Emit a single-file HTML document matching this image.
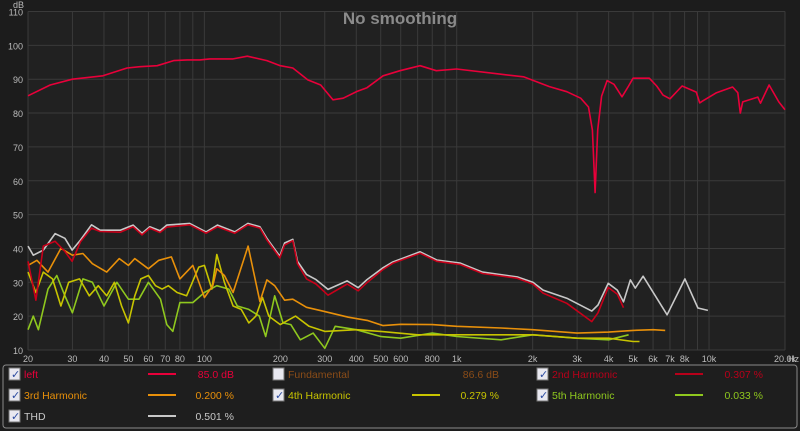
<!DOCTYPE html>
<html><head><meta charset="utf-8"><style>
body{margin:0;background:#1c1c1c;width:800px;height:431px;overflow:hidden;font-family:"Liberation Sans",sans-serif}
svg{position:absolute;left:0;top:0}
</style></head><body>
<svg id="c" width="800" height="431">
<rect x="0" y="0" width="800" height="431" fill="#1c1c1c"/>
<rect x="28" y="11" width="757" height="339" fill="#212121"/>
<g id="grid"></g><g id="ticks"></g><g id="series"></g>
<text x="400" y="24" text-anchor="middle" font-size="17" font-weight="bold" fill="#8a8a8a">No smoothing</text>
<text x="13" y="8" font-size="9" fill="#bbb">dB</text>
<text x="788" y="362" font-size="9" fill="#bbb">Hz</text>
<rect x="3" y="365" width="794" height="63" rx="3" fill="#1e1e1e" stroke="#8a8a8a"/>
<g id="legend" font-size="10.5"></g>
</svg>
<script>
const NS="http://www.w3.org/2000/svg";
const yTicks=[10,20,30,40,50,60,70,80,90,100,110];
const xGrid=[20,30,40,50,60,70,80,90,100,200,300,400,500,600,700,800,900,1000,2000,3000,4000,5000,6000,7000,8000,9000,10000,20000];
const xLabels=["20","30","40","50","60","70","80","100","200","300","400","500","600","800","1k","2k","3k","4k","5k","6k","7k","8k","10k","20.0k"];
const xLabelF=[20,30,40,50,60,70,80,100,200,300,400,500,600,800,1000,2000,3000,4000,5000,6000,7000,8000,10000,20000];

const leftF=[20,24.5,30,39.6,49.4,55.6,65,75.6,85.5,96,105,130,148,177,200,224,257,289,323,355,403,441,511,596,716,830,1000,1480,1840,2330,2730,3100,3330,3450,3535,3620,3750,3945,4200,4520,4800,5000,5800,6200,6570,7000,7820,8900,9180,9400,10700,12400,13000,13300,13600,15600,16000,17300,18900,20000];
const leftV=[85.1,88.3,90,91,93.3,93.7,94,95.5,95.7,95.7,96,96,96.8,95.5,94,93.3,89.8,88.3,83.9,84.4,86.4,87.5,91,92.5,94,92.5,93,91.5,90.7,87.8,86.3,84.4,81.8,75,56.5,75,85,89.6,88.5,84.8,88,90.3,90.3,88,85.3,84.2,88,86.2,83,83.5,86,87.7,86,80,83.3,84.7,82.9,88.3,83.3,81];

const thdF=[20,21,23,25.6,28,29.9,32.3,35.7,38.6,46.4,52.2,56.6,60.8,66.7,71,87.5,101.6,112.7,132,148.8,166,177,199,208,224,234,254,277,309,368,407,441,511,558,716,833,1030,1265,1736,2005,2200,2730,3430,3630,3985,4330,4580,4880,5100,5480,6820,8020,9030,9900];
const thdV=[40.7,38,39.5,44.4,43,39.5,42.5,47,45.4,45.4,46.9,44.5,46.4,45.2,46.9,47.4,44.9,46.9,44.9,47.4,46.4,43,37.7,41.6,42.7,36.2,32.3,30.8,27.9,30.4,28.4,30.8,34.3,36,39,36.6,35.7,33,31.6,30,27.7,25.3,21.5,23.3,29.7,27.7,24.2,30.7,28.3,31.8,20.4,31,22.4,21.7];

const h2F=[20,21.5,23,25.6,28,29.9,32.3,35.7,38.6,46.4,52.2,56.6,60.8,66.7,71,87.5,101.6,112.7,132,148.8,166,177,199,208,224,234,254,277,309,368,407,441,511,558,716,833,1030,1265,1736,2005,2200,2730,3430,3630,3985,4330,4580];
const h2V=[36.2,24.7,40.7,42.1,39.1,36.2,42,46,45,44.8,46.4,44,46,44.7,46.3,47,44.5,46.4,44.5,47,46,42.5,37.2,41,42.3,35.5,31,29.5,26.2,29.5,27.5,29.9,33.8,35.6,38.6,36.2,35.3,32.6,31.2,29.5,26.8,23.8,18.4,21,28.5,26.5,22.5];

const h3F=[20,21.7,24,27,30,33,36,41,46,50,53,60,66,74,80,90,100,108,112,120,130,149,166,177,190,208,224,254,290,372,445,511,600,800,1000,1500,2000,3000,4000,5000,6000,6700];
const h3V=[35,36.5,33,40,38,38.5,35.5,33,37,35,37,34,36.5,37.5,31,35,25.5,29,34,32,27,40.7,24.3,30.7,29,24.7,25,22.6,21.6,19.7,18.7,17.2,17.6,17.5,17,16.5,16,15,15.3,15.8,16,15.8];

const h4F=[20,21.5,23,25,27,29,32,35,38,41,44,47,50,53,56,60,64,68,72,78,85,95,100,107,112,120,130,140,150,160,170,180,200,230,260,300,400,500,700,1000,2000,3000,4000,5000,5300];
const h4V=[33,27,33,31,23,30,31,26,29,26,30,23,18,26,31,32,29,28,29,27,26,34.5,35,28,38.2,30,23,22,18,20,25.5,20,17.5,20,17,15.5,16,15.5,14.5,14.5,14.5,13.5,13.5,12.5,12.5];

const h5F=[20,21,22,24,26,28,30,33,36,40,45,50,55,60,67,71,75,80,90,100,112,125,135,150,165,175,190,205,220,240,270,300,330,400,500,600,800,1000,1500,2000,3000,4000,4800];
const h5V=[16,20,16,28,32,26,21,31,30,23,30,25,25,30,25,17.5,15.5,24,24,27,29,28,23,22,20,14,26,18,17.5,13,15,10.5,17,16,14,13.5,15,14,13,14.5,13.5,13,14.5];

const X0=28,X1=785,YT=11.5,YB=350;
function xs(f){return X0+(X1-X0)*Math.log10(f/20)/3;}
function ys(d){return YB-(YB-YT)*(d-10)/100;}
const grid=document.getElementById('grid'),ticks=document.getElementById('ticks'),ser=document.getElementById('series');
function mk(tag,attrs,parent){const e=document.createElementNS(NS,tag);for(const k in attrs)e.setAttribute(k,attrs[k]);parent.appendChild(e);return e;}
yTicks.forEach(v=>{
  const l=mk('line',{x1:X0,x2:X1,y1:ys(v),y2:ys(v),stroke:'#3a3a3a','stroke-width':1},grid);
  
  
  const t=mk('text',{x:23,y:ys(v)+4,'text-anchor':'end','font-size':9,fill:'#bbb'},ticks);
  
  
  t.textContent=v;
});
xGrid.forEach(f=>{
  const l=mk('line',{x1:xs(f),x2:xs(f),y1:YT,y2:YB,stroke:'#3a3a3a','stroke-width':1},grid);
  
  
});
xLabels.forEach((s,i)=>{
  const t=mk('text',{x:xs(xLabelF[i]),y:362,'text-anchor':'middle','font-size':9,fill:'#bbb'},ticks);
  
  
  t.textContent=s;
});
function line(F,V,color,name){
  const d=F.map((f,i)=>(i?'L':'M')+xs(f).toFixed(1)+','+ys(V[i]).toFixed(1)).join('');
  const p=mk('path',{d:d,fill:'none',stroke:color,'stroke-width':1.6,'stroke-linejoin':'round'},ser);
  
  
}
line(h5F,h5V,'#8fc81e','series-5th-harmonic');
line(h4F,h4V,'#c8c400','series-4th-harmonic');
line(h3F,h3V,'#e8900a','series-3rd-harmonic');
line(thdF,thdV,'#c8c8c8','series-thd');
line(h2F,h2V,'#c8001a','series-2nd-harmonic');
line(leftF,leftV,'#e8003a','series-left');

const lg=document.getElementById('legend');
const items=[
 {cx:9,y:378,label:'left',col:'#e8003a',line:[148,176],val:'85.0 dB',vx:234,chk:true,n:'left'},
 {cx:273,y:378,label:'Fundamental',col:'#8a4c18',line:null,val:'86.6 dB',vx:499,chk:false,n:'fundamental'},
 {cx:537,y:378,label:'2nd Harmonic',col:'#b8001a',line:[675,703],val:'0.307 %',vx:763,chk:true,n:'2nd-harmonic'},
 {cx:9,y:399,label:'3rd Harmonic',col:'#e8900a',line:[148,176],val:'0.200 %',vx:234,chk:true,n:'3rd-harmonic'},
 {cx:273,y:399,label:'4th Harmonic',col:'#c8c400',line:[412,440],val:'0.279 %',vx:499,chk:true,n:'4th-harmonic'},
 {cx:537,y:399,label:'5th Harmonic',col:'#8fc81e',line:[675,703],val:'0.033 %',vx:763,chk:true,n:'5th-harmonic'},
 {cx:9,y:420,label:'THD',col:'#c8c8c8',line:[148,176],val:'0.501 %',vx:234,chk:true,n:'thd'}];
items.forEach(it=>{
  const g=mk('g',{},lg);
  
  
  const cb=mk('rect',{x:it.cx,y:it.y-10,width:11,height:12,fill:'#e8e8f0',stroke:'#777'},g);
  
  
  if(it.chk){const ck=mk('text',{x:it.cx+2,y:it.y,'font-size':11,fill:'#2a4aa0'},g);ck.textContent='✓';}
  const t=mk('text',{x:it.cx+15,y:it.y,fill:it.col},g);t.textContent=it.label;
  if(it.line)mk('line',{x1:it.line[0],x2:it.line[1],y1:it.y-4,y2:it.y-4,stroke:it.col,'stroke-width':2},g);
  const v=mk('text',{x:it.vx,y:it.y,'text-anchor':'end',fill:it.col},g);v.textContent=it.val;
});
</script>
</body></html>
